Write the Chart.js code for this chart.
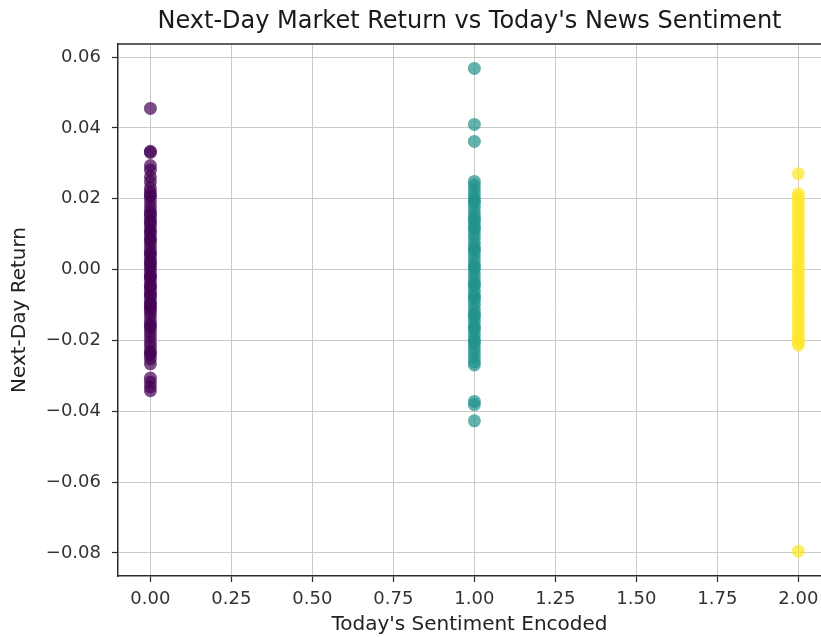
<!DOCTYPE html>
<html>
<head>
<meta charset="utf-8">
<script src="https://cdn.jsdelivr.net/npm/chart.js@4"></script>
<style>
  html, body { margin: 0; padding: 0; background: #fff; }
  #wrap { width: 821px; height: 637px; }
</style>
</head>
<body>
<div id="wrap"><canvas id="scatterChart" width="821" height="637"></canvas></div>
<script>
// sentiment codes (x) and next-day returns (y)
const sentimentCodes = [0, 1, 2];
const negativeReturns = [
  0.0455, 0.0334, 0.0331, 0.0294, 0.0281, 0.0262, 0.0248, 0.0231, 0.0219, 0.0205,
  0.0192, 0.0178, 0.0166, 0.0151, 0.0139, 0.0124, 0.0112, 0.0098, 0.0087, 0.0073,
  0.0061, 0.0049, 0.0036, 0.0024, 0.0012, 0.0003, -0.0008, -0.0019, -0.0031, -0.0044,
  -0.0056, -0.0068, -0.0081, -0.0093, -0.0105, -0.0118, -0.0129, -0.0142, -0.0154, -0.0167,
  -0.0179, -0.0191, -0.0204, -0.0216, -0.0229, -0.0241, -0.0252, -0.0266, -0.0306, -0.0318,
  -0.0331, -0.0342, 0.0045, -0.0021, 0.0107, -0.0110, 0.0158, -0.0072, 0.0019, -0.0048,
  0.0083, -0.0159, 0.0211, -0.0235, 0.0133, -0.0097
];
const neutralReturns = [
  0.0568, 0.0410, 0.0362, 0.0249, 0.0238, 0.0226, 0.0213, 0.0201, 0.0188, 0.0176,
  0.0163, 0.0151, 0.0138, 0.0126, 0.0113, 0.0101, 0.0089, 0.0076, 0.0064, 0.0051,
  0.0039, 0.0026, 0.0014, 0.0002, -0.0011, -0.0023, -0.0036, -0.0048, -0.0061, -0.0073,
  -0.0086, -0.0098, -0.0111, -0.0123, -0.0136, -0.0148, -0.0161, -0.0173, -0.0186, -0.0198,
  -0.0211, -0.0223, -0.0236, -0.0248, -0.0261, -0.0269, -0.0372, -0.0381, -0.0427,
  0.0057, -0.0042, 0.0118, -0.0129, 0.0194, -0.0078, 0.0008, -0.0203, 0.0142, -0.0165
];
const positiveReturns = [
  0.0271, 0.0214, 0.0205, 0.0193, 0.0181, 0.0168, 0.0156, 0.0143, 0.0131, 0.0118,
  0.0106, 0.0093, 0.0081, 0.0068, 0.0056, 0.0043, 0.0031, 0.0018, 0.0006, -0.0007,
  -0.0019, -0.0032, -0.0044, -0.0057, -0.0069, -0.0082, -0.0094, -0.0107, -0.0119, -0.0132,
  -0.0144, -0.0157, -0.0169, -0.0182, -0.0194, -0.0206, -0.0213, -0.0795
];
const xTickValues = [0, 0.25, 0.5, 0.75, 1, 1.25, 1.5, 1.75, 2];
const yTickValues = [-0.08, -0.06, -0.04, -0.02, 0, 0.02, 0.04, 0.06];

const FONT = "'DejaVu Sans', sans-serif";
const gridColor = "#c9c9c9";
const spineColor = "#2b2b2b";

function toPoints(code, values) {
  return values.map(v => ({ x: code, y: v }));
}

function fmt(v) {
  const s = Math.abs(v).toFixed(2);
  return v < -1e-9 ? "\u2212" + s : s;
}

// matplotlib draws a frame on top too
const topSpine = {
  id: "topSpine",
  afterDraw(chart) {
    const a = chart.chartArea;
    const ctx = chart.ctx;
    ctx.save();
    ctx.strokeStyle = spineColor;
    ctx.lineWidth = 1.5;
    ctx.beginPath();
    ctx.moveTo(a.left, a.top);
    ctx.lineTo(a.right, a.top);
    ctx.stroke();
    ctx.restore();
  }
};

const ctx = document.getElementById("scatterChart").getContext("2d");
const chart = new Chart(ctx, {
  type: "scatter",
  data: {
    datasets: [
      { data: toPoints(sentimentCodes[0], negativeReturns), backgroundColor: "rgba(68,1,84,0.7)", borderWidth: 0, pointRadius: 6.5 },
      { data: toPoints(sentimentCodes[1], neutralReturns), backgroundColor: "rgba(33,145,140,0.7)", borderWidth: 0, pointRadius: 6.5 },
      { data: toPoints(sentimentCodes[2], positiveReturns), backgroundColor: "rgba(253,231,37,0.7)", borderWidth: 0, pointRadius: 6.5 }
    ]
  },
  options: {
    responsive: false,
    animation: false,
    events: [],
    // the plot runs off the right edge, so keep no room for point overflow
    layout: { autoPadding: false, padding: { left: 0, right: 0, top: 0, bottom: 0 } },
    plugins: {
      legend: { display: false },
      tooltip: { enabled: false },
      title: {
        display: true,
        fullSize: false,
        text: "Next-Day Market Return vs Today's News Sentiment",
        color: "#1a1a1a",
        font: { family: FONT, size: 24, weight: "normal" },
        padding: { top: 7, bottom: 8.2 }
      }
    },
    scales: {
      x: {
        type: "linear",
        min: -0.1,
        max: 2.07,
        afterBuildTicks: (scale) => { scale.ticks = xTickValues.map(v => ({ value: v })); },
        afterFit: (scale) => {
          scale.height = 61;
          scale.paddingLeft = 0;
          scale.paddingRight = 0;
        },
        grid: { color: gridColor, lineWidth: 1, tickColor: spineColor, tickLength: 6, tickWidth: 1.2 },
        border: { color: spineColor, width: 1.5 },
        ticks: {
          callback: (v) => fmt(v),
          color: "#333",
          font: { family: FONT, size: 18 },
          padding: 7,
          maxRotation: 0
        },
        title: {
          display: true,
          text: "Today's Sentiment Encoded",
          color: "#222",
          font: { family: FONT, size: 20 },
          padding: { top: 2, bottom: 0 }
        }
      },
      y: {
        type: "linear",
        min: -0.0865,
        max: 0.0637,
        afterBuildTicks: (scale) => { scale.ticks = yTickValues.map(v => ({ value: v })); },
        afterFit: (scale) => { scale.width = 118; },
        grid: { color: gridColor, lineWidth: 1, tickColor: spineColor, tickLength: 6, tickWidth: 1.2 },
        border: { color: spineColor, width: 1.5 },
        ticks: {
          callback: (v) => fmt(v),
          color: "#333",
          font: { family: FONT, size: 18 },
          padding: 11
        },
        title: {
          display: true,
          text: "Next-Day Return",
          color: "#222",
          font: { family: FONT, size: 20 },
          padding: { top: 8, bottom: 14 }
        }
      }
    }
  },
  plugins: [topSpine]
});
</script>
</body>
</html>
